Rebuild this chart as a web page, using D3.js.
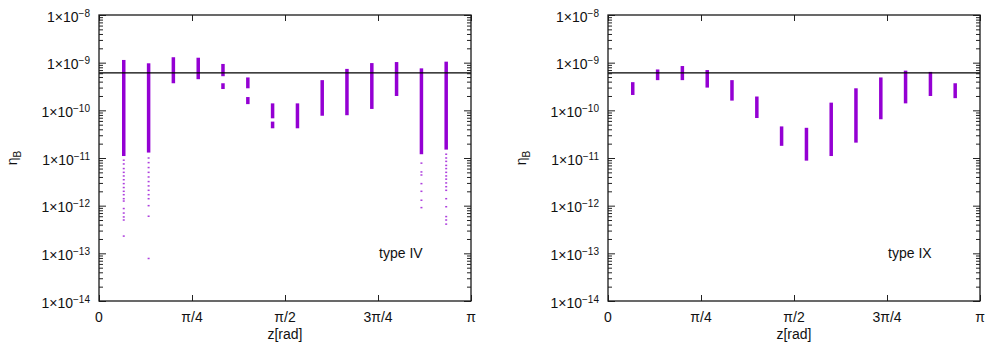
<!DOCTYPE html>
<html>
<head>
<meta charset="utf-8">
<script src="https://cdn.jsdelivr.net/npm/d3@7"></script>
<style>
  body { margin: 0; background: #fff; }
  text { font-family: "Liberation Sans", Arial, sans-serif; fill: #111; }
</style>
</head>
<body>
<div id="chart"></div>
<script>
// z positions of the 14 scan columns (radians)
const zValues = [0.209, 0.419, 0.628, 0.838, 1.047, 1.257, 1.466, 1.676, 1.885, 2.094, 2.304, 2.513, 2.723, 2.932];

// dense ranges of eta_B per column: [low, high] pieces
const typeIVBands = [
  [[1.1e-11, 1.14e-9]],
  [[1.3e-11, 9.7e-10]],
  [[3.7e-10, 1.3e-9]],
  [[4.5e-10, 1.27e-9]],
  [[5.2e-10, 9.4e-10], [2.8e-10, 3.7e-10]],
  [[2.9e-10, 4.9e-10], [1.35e-10, 1.9e-10]],
  [[6.8e-11, 1.4e-10], [4.2e-11, 5.8e-11]],
  [[4.2e-11, 1.4e-10]],
  [[7.7e-11, 4.3e-10]],
  [[7.9e-11, 7.4e-10]],
  [[1.07e-10, 9.8e-10]],
  [[2.0e-10, 1.03e-9]],
  [[1.2e-11, 7.6e-10]],
  [[1.5e-11, 1.05e-9]]
];
// isolated points below the dense ranges
const typeIVSparse = [
  [9e-12, 7.5e-12, 6e-12, 5e-12, 4.2e-12, 3.5e-12, 2.9e-12, 2.4e-12, 2e-12, 1.7e-12, 1.4e-12, 1.25e-12, 8.7e-13, 7e-13, 5.8e-13, 5e-13, 2.3e-13],
  [1e-11, 8e-12, 6.3e-12, 5e-12, 4e-12, 3.2e-12, 2.6e-12, 2.1e-12, 1.7e-12, 1.4e-12, 1e-12, 6e-13, 7.8e-14],
  [], [], [], [], [], [], [], [], [], [],
  [7.8e-12, 5.1e-12, 4.4e-12, 2.9e-12, 2.0e-12, 1.3e-12, 9.1e-13],
  [1.2e-11, 1e-11, 8.5e-12, 7e-12, 6e-12, 5e-12, 4.2e-12, 3.6e-12, 3e-12, 2.5e-12, 2.1e-12, 1.4e-12, 9.5e-13, 5.9e-13, 5e-13, 4.1e-13]
];

const typeIXBands = [
  [[2.1e-10, 3.9e-10]],
  [[4.3e-10, 7.2e-10]],
  [[4.3e-10, 8.5e-10]],
  [[3.0e-10, 7.0e-10]],
  [[1.6e-10, 4.3e-10]],
  [[6.9e-11, 1.95e-10]],
  [[1.8e-11, 4.6e-11]],
  [[8.8e-12, 4.3e-11]],
  [[1.1e-11, 1.45e-10]],
  [[2.1e-11, 2.9e-10]],
  [[6.5e-11, 4.9e-10]],
  [[1.4e-10, 6.8e-10]],
  [[2.0e-10, 6.4e-10]],
  [[1.8e-10, 3.7e-10]]
];
const typeIXSparse = [[], [], [], [], [], [], [], [], [], [], [], [], [], []];

const etaObserved = 6.1e-10;

const yTickValues = [1e-14, 1e-13, 1e-12, 1e-11, 1e-10, 1e-9, 1e-8];
const yTickExponents = ['\u221214', '\u221213', '\u221212', '\u221211', '\u221210', '\u22129', '\u22128'];
const xTickValues = [0, Math.PI / 4, Math.PI / 2, 3 * Math.PI / 4, Math.PI];
const xTickLabels = ['0', '\u03c0/4', '\u03c0/2', '3\u03c0/4', '\u03c0'];
const panelNames = ['type IV', 'type IX'];

const width = 372, height = 286, plotTop = 15;
const panelLefts = [99, 608];
const color = '#9400d3';

const svg = d3.select('#chart').append('svg')
  .attr('width', 985)
  .attr('height', 351);

const x = d3.scaleLinear().domain([0, Math.PI]).range([0, width]);
const y = d3.scaleLog().domain([1e-14, 1e-8]).range([height, 0]);

// minor ticks 2..9 within each decade
const minorTicks = [];
yTickValues.slice(0, -1).forEach(d => {
  for (let m = 2; m <= 9; m++) minorTicks.push(d * m);
});

function drawPanel(left, bands, sparse, name) {
  const g = svg.append('g').attr('transform', `translate(${left},${plotTop})`);

  // ticks (inward, mirrored)
  const tickStyle = sel => {
    sel.select('.domain').remove();
    sel.selectAll('.tick line').attr('stroke', '#222').attr('stroke-width', 1);
    sel.selectAll('.tick text').remove();
  };
  g.append('g').call(d3.axisLeft(y).tickValues(minorTicks).tickSize(-4)).call(tickStyle);
  g.append('g').call(d3.axisLeft(y).tickValues(yTickValues).tickSize(-7)).call(tickStyle);
  g.append('g').attr('transform', `translate(${width},0)`)
    .call(d3.axisRight(y).tickValues(minorTicks).tickSize(-4)).call(tickStyle);
  g.append('g').attr('transform', `translate(${width},0)`)
    .call(d3.axisRight(y).tickValues(yTickValues).tickSize(-7)).call(tickStyle);
  g.append('g').attr('transform', `translate(0,${height})`)
    .call(d3.axisBottom(x).tickValues(xTickValues).tickSize(-6)).call(tickStyle);
  g.append('g')
    .call(d3.axisTop(x).tickValues(xTickValues).tickSize(-6)).call(tickStyle);

  // y tick labels 1x10^n
  const yl = g.append('g').selectAll('text')
    .data(yTickValues)
    .enter().append('text')
    .attr('x', -9)
    .attr('y', d => y(d) + 6.5)
    .attr('text-anchor', 'end')
    .style('font-size', '14px');
  yl.append('tspan').text('1\u00d710');
  yl.append('tspan').attr('dy', -5).style('font-size', '10px').text((d, i) => yTickExponents[i]);

  // x tick labels
  g.append('g').selectAll('text')
    .data(xTickValues)
    .enter().append('text')
    .attr('x', d => x(d))
    .attr('y', height + 21)
    .attr('text-anchor', 'middle')
    .style('font-size', '14px')
    .text((d, i) => xTickLabels[i]);

  // axis titles
  g.append('text')
    .attr('x', width / 2)
    .attr('y', height + 38)
    .attr('text-anchor', 'middle')
    .style('font-size', '14px')
    .text('z[rad]');

  const yt = g.append('text')
    .attr('transform', `translate(-82,${height / 2}) rotate(-90)`)
    .attr('text-anchor', 'middle')
    .style('font-size', '14px');
  yt.append('tspan').text('\u03b7');
  yt.append('tspan').attr('dy', 4).style('font-size', '10px').text('B');

  // dense bands
  bands.forEach((pieces, i) => {
    g.append('g').attr('fill', color)
      .selectAll('rect')
      .data(pieces)
      .enter().append('rect')
      .attr('x', x(zValues[i]) - 1.75)
      .attr('width', 3.5)
      .attr('y', d => y(d[1]))
      .attr('height', d => y(d[0]) - y(d[1]));
  });

  // isolated points
  sparse.forEach((pts, i) => {
    g.append('g').attr('fill', color).attr('opacity', 0.75)
      .selectAll('rect')
      .data(pts)
      .enter().append('rect')
      .attr('x', x(zValues[i]) - 1)
      .attr('width', 2)
      .attr('y', d => y(d) - 0.75)
      .attr('height', 1.5);
  });

  // observed value
  g.append('line')
    .attr('x1', 0).attr('x2', width)
    .attr('y1', y(etaObserved)).attr('y2', y(etaObserved))
    .attr('stroke', '#000')
    .attr('stroke-width', 1.3);

  // panel label
  g.append('text')
    .attr('x', x(2.365))
    .attr('y', y(8e-14))
    .style('font-size', '14px')
    .text(name);

  // frame
  g.append('rect')
    .attr('width', width).attr('height', height)
    .attr('fill', 'none')
    .attr('stroke', '#1a1a1a')
    .attr('stroke-width', 1.3);
}

drawPanel(panelLefts[0], typeIVBands, typeIVSparse, panelNames[0]);
drawPanel(panelLefts[1], typeIXBands, typeIXSparse, panelNames[1]);
</script>
</body>
</html>
